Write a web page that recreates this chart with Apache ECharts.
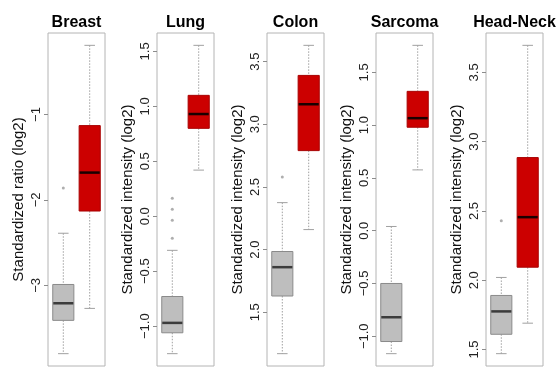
<!DOCTYPE html>
<html>
<head>
<meta charset="utf-8">
<script src="https://cdn.jsdelivr.net/npm/echarts@6/dist/echarts.min.js"></script>
<style>
html,body{margin:0;padding:0;background:#fff;}
#chart{width:557px;height:371px;}
</style>
</head>
<body>
<div id="chart"></div>
<script>
// ---- data ----
const panels = ['Breast', 'Lung', 'Colon', 'Sarcoma', 'Head-Neck'];
const yTitles = [
  'Standardized ratio (log2)',
  'Standardized intensity (log2)',
  'Standardized intensity (log2)',
  'Standardized intensity (log2)',
  'Standardized intensity (log2)'
];
// [lower whisker, Q1, median, Q3, upper whisker]
const normalStats = [
  [-3.80, -3.41, -3.21, -2.99, -2.39],
  [-1.25, -1.06, -0.97, -0.73, -0.31],
  [1.17, 1.63, 1.86, 1.985, 2.375],
  [-1.165, -1.05, -0.82, -0.50, 0.04],
  [1.47, 1.61, 1.775, 1.89, 2.02]
];
const tumorStats = [
  [-3.27, -2.13, -1.68, -1.13, -0.19],
  [0.42, 0.80, 0.93, 1.10, 1.555],
  [2.16, 2.79, 3.16, 3.39, 3.63],
  [0.576, 0.98, 1.066, 1.32, 1.756],
  [1.69, 2.094, 2.455, 2.885, 3.695]
];
const normalOutliers = [
  [-1.86],
  [0.165, 0.064, -0.037, -0.20],
  [2.58],
  [],
  [2.43]
];
const tumorOutliers = [[], [], [], [], []];
const tickValues = [
  [-3, -2, -1],
  [-1, -0.5, 0, 0.5, 1, 1.5],
  [1.5, 2, 2.5, 3, 3.5],
  [-1, -0.5, 0, 0.5, 1, 1.5],
  [1.5, 2, 2.5, 3, 3.5]
];
const tickDecimals = [0, 1, 1, 1, 1];

// ---- layout / style ----
const gridLefts = [48, 157, 267, 376, 486];
const gridWidth = 57;
const gridTop = 33;
const gridHeight = 333;
const FONT = '"Liberation Sans", Arial, Helvetica, sans-serif';
const boxStyles = [
  { fill: '#bebebe', border: '#8a8a8a', median: '#3c3c3c' },
  { fill: '#cc0000', border: '#a80000', median: '#1a0000' }
];
const whiskerColor = '#a0a0a0';

function fmt(v, d) {
  return v.toFixed(d).replace('-', '\u2212');
}

function renderBox(params, api) {
  const x = api.value(0);
  const kind = api.value(6);
  const st = boxStyles[kind];
  const pLo = api.coord([x, api.value(1)]);
  const pQ1 = api.coord([x, api.value(2)]);
  const pMed = api.coord([x, api.value(3)]);
  const pQ3 = api.coord([x, api.value(4)]);
  const pHi = api.coord([x, api.value(5)]);
  const w = api.size([0.8, 0])[0];
  const cx = pMed[0];
  const sw = w * 0.5;
  const dash = { stroke: whiskerColor, lineWidth: 1, lineDash: [1.5, 1.5] };
  const solid = { stroke: whiskerColor, lineWidth: 1 };
  return {
    type: 'group',
    children: [
      { type: 'line', shape: { x1: cx, y1: pHi[1], x2: cx, y2: pQ3[1] }, style: dash },
      { type: 'line', shape: { x1: cx, y1: pQ1[1], x2: cx, y2: pLo[1] }, style: dash },
      { type: 'line', shape: { x1: cx - sw / 2, y1: pHi[1], x2: cx + sw / 2, y2: pHi[1] }, style: solid },
      { type: 'line', shape: { x1: cx - sw / 2, y1: pLo[1], x2: cx + sw / 2, y2: pLo[1] }, style: solid },
      { type: 'rect', shape: { x: cx - w / 2, y: pQ3[1], width: w, height: pQ1[1] - pQ3[1] },
        style: { fill: st.fill, stroke: st.border, lineWidth: 1 } },
      { type: 'line', shape: { x1: cx - w / 2 + 0.5, y1: pMed[1], x2: cx + w / 2 - 0.5, y2: pMed[1] },
        style: { stroke: st.median, lineWidth: 2.5 } }
    ]
  };
}

const grids = [], xAxes = [], yAxes = [], series = [], titles = [];
panels.forEach(function (name, i) {
  const all = normalStats[i].concat(tumorStats[i], normalOutliers[i], tumorOutliers[i]);
  const lo = Math.min.apply(null, all), hi = Math.max.apply(null, all);
  const pad = (hi - lo) * 0.04;
  grids.push({ left: gridLefts[i], top: gridTop, width: gridWidth, height: gridHeight,
    show: true, borderColor: '#b4b4b4', borderWidth: 1, backgroundColor: '#fff' });
  xAxes.push({ type: 'value', gridIndex: i, min: 0.42, max: 2.58, show: false });
  yAxes.push({
    type: 'value', gridIndex: i, min: lo - pad, max: hi + pad,
    splitLine: { show: false },
    axisLine: { show: false },
    axisTick: { show: true, length: 4, lineStyle: { color: '#8c8c8c' }, customValues: tickValues[i] },
    axisLabel: {
      customValues: tickValues[i], rotate: 90, margin: 5,
      fontSize: 13, color: '#222', fontFamily: FONT,
      formatter: function (v) { return fmt(v, tickDecimals[i]); }
    },
    name: yTitles[i], nameLocation: 'middle', nameRotate: 90, nameGap: 22,
    nameTextStyle: { fontSize: 15, color: '#111', fontFamily: FONT }
  });
  series.push({
    type: 'custom', xAxisIndex: i, yAxisIndex: i,
    renderItem: renderBox,
    encode: { x: 0, y: [1, 2, 3, 4, 5] },
    data: [
      [1].concat(normalStats[i], [0]),
      [2].concat(tumorStats[i], [1])
    ],
    silent: true, animation: false
  });
  const pts = normalOutliers[i].map(function (v) { return [1, v]; })
    .concat(tumorOutliers[i].map(function (v) { return [2, v]; }));
  series.push({
    type: 'scatter', xAxisIndex: i, yAxisIndex: i, data: pts,
    symbol: 'circle', symbolSize: 3,
    itemStyle: { color: '#9a9a9a' }, silent: true, animation: false
  });
  titles.push({
    text: name, left: gridLefts[i] + gridWidth / 2, top: 15, textAlign: 'center', padding: 0,
    textStyle: { fontSize: 16, fontWeight: 'bold', color: '#000', fontFamily: FONT }
  });
});

const chart = echarts.init(document.getElementById('chart'), null, { renderer: 'canvas' });
chart.setOption({
  backgroundColor: '#fff',
  animation: false,
  title: titles,
  grid: grids,
  xAxis: xAxes,
  yAxis: yAxes,
  series: series
});
</script>
</body>
</html>
